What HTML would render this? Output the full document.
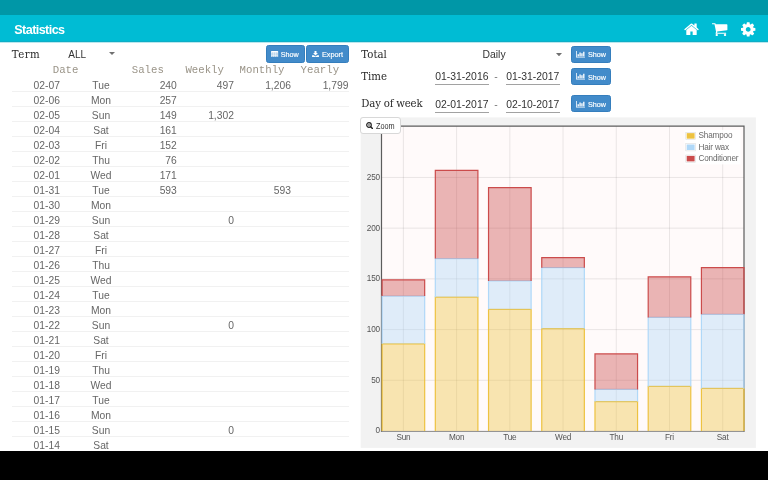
<!DOCTYPE html>
<html lang="en"><head><meta charset="utf-8"><title>Statistics</title>
<style>
html,body{margin:0;padding:0;}
body{width:768px;height:480px;overflow:hidden;background:#fff;position:relative;font-family:"Liberation Sans",sans-serif;color:#333;}
.abs{position:absolute;white-space:nowrap;}
#status{left:0;top:0;width:768px;height:15px;background:#0097a7;}
#appbar{left:0;top:15px;width:768px;height:28px;background:linear-gradient(#00bcd4 0,#00bcd4 26px,#0eaec6 26px,#0eaec6 27px,#7fd3df 27px,#f4fbfc 28px);}
#title{left:14.3px;top:22.7px;font-size:12.6px;font-weight:bold;color:#fff;line-height:15px;letter-spacing:-0.58px;}
#navbar{left:0;top:451px;width:768px;height:29px;background:#000;z-index:10;}
.serif{font-family:"DejaVu Serif","Liberation Serif",serif;font-size:10.2px;color:#2a2a2a;line-height:14px;}
.sans{font-size:10.4px;color:#333;line-height:12px;}
.hd{font-family:"Liberation Mono",monospace;font-size:10.7px;color:#9a9488;line-height:12px;}
.row{left:12px;width:337px;height:15px;border-bottom:1px solid #f1f1f1;box-sizing:border-box;}
.c{position:absolute;top:2.8px;font-size:10.3px;line-height:12px;color:#666;white-space:nowrap;}
.r{text-align:right;}
.btn{box-sizing:border-box;background:#428bca;border:0.6px solid #357ebd;border-radius:2.5px;color:#fff;font-size:7.2px;line-height:9px;height:17.2px;}
.btn span{position:absolute;top:3.9px;-webkit-text-stroke:0.15px #fff;}
.btn svg{position:absolute;}
.ul{height:1.6px;background:#a2a2a2;}
.tick{font-size:8.2px;letter-spacing:-0.18px;color:#545454;line-height:9px;}
</style></head><body>
<div id="status" class="abs"></div>
<div id="appbar" class="abs"></div>
<div id="title" class="abs">Statistics</div>
<svg class="abs" style="left:683.9px;top:22.6px" width="15" height="14" viewBox="0 200 1664 1550"><path fill="#fff" d="M1408 992v480q0 26-19 45t-45 19h-384v-384h-256v384h-384q-26 0-45-19t-19-45v-480q0-1 .5-3t.5-3l575-474 575 474q1 2 1 6zm223-69l-62 74q-8 9-21 11h-3q-13 0-21-7l-692-577-692 577q-12 8-24 7-13-2-21-11l-62-74q-8-10-7-23.500t11-21.500l719-599q32-26 76-26t76 26l244 204v-195q0-14 9-23t23-9h192q14 0 23 9t9 23v408l219 182q10 8 11 21.500t-7 23.500z"/></svg>
<svg class="abs" style="left:712.2px;top:23.1px" width="15.4" height="13.4" viewBox="0 256 1664 1408"><path fill="#fff" d="M640 1536q0 52-38 90t-90 38-90-38-38-90 38-90 90-38 90 38 38 90zm896 0q0 52-38 90t-90 38-90-38-38-90 38-90 90-38 90 38 38 90zm128-1088v512q0 24-16.500 42.500t-40.500 21.500l-1044 122q13 60 13 70 0 16-24 64h920q26 0 45 19t19 45-19 45-45 19h-1024q-26 0-45-19t-19-45q0-11 8-31.500t16-36 21.500-40 15.500-29.500l-177-823h-204q-26 0-45-19t-19-45 19-45 45-19h256q16 0 28.500 6.500t19.500 15.500 13 24.500 8 26 5.500 29.500 4.500 26h1201q26 0 45 19t19 45z"/></svg>
<svg class="abs" style="left:741.4px;top:22.1px" width="14.4" height="14.8" viewBox="128 128 1536 1536"><path fill="#fff" d="M1152 896q0-106-75-181t-181-75-181 75-75 181 75 181 181 75 181-75 75-181zm512-109v222q0 12-8 23t-20 13l-185 28q-19 54-39 91 35 50 107 138 10 12 10 25t-9 23q-27 37-99 108t-94 71q-12 0-26-9l-138-108q-44 23-91 38-16 136-29 186-7 28-36 28h-222q-14 0-24.500-8.500t-11.500-21.500l-28-184q-49-16-90-37l-141 107q-10 9-25 9-14 0-25-11-126-114-165-168-7-10-7-23 0-12 8-23 15-21 51-66.500t54-70.500q-27-50-41-99l-183-27q-13-2-21-12.500t-8-23.500v-222q0-12 8-23t19-13l186-28q14-46 39-92-40-57-107-138-10-12-10-24 0-10 9-23 26-36 98.500-107.500t94.500-71.500q13 0 26 10l138 107q44-23 91-38 16-136 29-186 7-28 36-28h222q14 0 24.500 8.500t11.500 21.500l28 184q49 16 90 37l142-107q9-9 24-9 13 0 25 10 129 119 165 170 7 8 7 22 0 12-8 23-15 21-51 66.500t-54 70.500q26 50 41 98l183 28q13 2 21 12.500t8 23.500z"/></svg>
<div class="abs serif" style="left:11.8px;top:47.5px;letter-spacing:0.45px">Term</div>
<div class="abs sans" style="left:68.3px;top:48.8px;font-size:10px">ALL</div>
<svg class="abs" style="left:109px;top:52px" width="6" height="3"><path d="M0 0h6l-3 3z" fill="#707070"/></svg>
<div class="abs btn" style="left:265.6px;top:45.4px;width:39px"><svg style="left:4.8px;top:4.5px" width="7.2" height="6.2" viewBox="0 0 12 10.4"><path fill="#fff" fill-rule="evenodd" d="M1 0h10a1 1 0 0 1 1 1v8.400a1 1 0 0 1-1 1H1a1 1 0 0 1-1-1V1a1 1 0 0 1 1-1zM.9 3.100v1.700h2.900V3.100zM4.500 3.100v1.700h3V3.100zM8.200 3.100v1.700h2.900V3.100zM.9 5.500v1.700h2.900V5.500zM4.500 5.500v1.700h3V5.500zM8.200 5.500v1.700h2.900V5.500zM.9 7.900v1.600h2.900V7.900zM4.500 7.900v1.600h3V7.900zM8.200 7.900v1.600h2.900V7.900z"/><path fill="#fff" fill-opacity="0.550" d="M.9 3.100h10.200v6.400H.9z"/></svg><span style="left:14.1px">Show</span></div>
<div class="abs btn" style="left:306.2px;top:45.400px;width:42.400px"><svg style="left:5.100px;top:4.400px" width="7" height="6.400" viewBox="0 0 14 13"><path fill="#fff" d="M5 0h4v4h3L7 9 2 4h3zM0 8.500h3.500L7 11l3.500-2.500H14V13H0z"/></svg><span style="left:14.800px;font-size:7.300px">Export</span></div>
<div class="abs hd" style="left:52.8px;top:64px">Date</div><div class="abs hd" style="left:131.8px;top:64px">Sales</div><div class="abs hd" style="left:185.4px;top:64px">Weekly</div><div class="abs hd" style="left:239.6px;top:64px">Monthly</div><div class="abs hd" style="left:300.6px;top:64px">Yearly</div>
<div class="abs row" style="top:76.8px"><span class="c" style="left:21.6px">02-07</span><span class="c" style="left:59px;width:60px;text-align:center">Tue</span><span class="c r" style="right:172.2px">240</span><span class="c r" style="right:115.1px">497</span><span class="c r" style="right:58.1px">1,206</span><span class="c r" style="right:0.6px">1,799</span></div>
<div class="abs row" style="top:91.8px"><span class="c" style="left:21.6px">02-06</span><span class="c" style="left:59px;width:60px;text-align:center">Mon</span><span class="c r" style="right:172.2px">257</span></div>
<div class="abs row" style="top:106.8px"><span class="c" style="left:21.6px">02-05</span><span class="c" style="left:59px;width:60px;text-align:center">Sun</span><span class="c r" style="right:172.2px">149</span><span class="c r" style="right:115.1px">1,302</span></div>
<div class="abs row" style="top:121.8px"><span class="c" style="left:21.6px">02-04</span><span class="c" style="left:59px;width:60px;text-align:center">Sat</span><span class="c r" style="right:172.2px">161</span></div>
<div class="abs row" style="top:136.8px"><span class="c" style="left:21.6px">02-03</span><span class="c" style="left:59px;width:60px;text-align:center">Fri</span><span class="c r" style="right:172.2px">152</span></div>
<div class="abs row" style="top:151.8px"><span class="c" style="left:21.6px">02-02</span><span class="c" style="left:59px;width:60px;text-align:center">Thu</span><span class="c r" style="right:172.2px">76</span></div>
<div class="abs row" style="top:166.8px"><span class="c" style="left:21.6px">02-01</span><span class="c" style="left:59px;width:60px;text-align:center">Wed</span><span class="c r" style="right:172.2px">171</span></div>
<div class="abs row" style="top:181.8px"><span class="c" style="left:21.6px">01-31</span><span class="c" style="left:59px;width:60px;text-align:center">Tue</span><span class="c r" style="right:172.2px">593</span><span class="c r" style="right:58.1px">593</span></div>
<div class="abs row" style="top:196.8px"><span class="c" style="left:21.6px">01-30</span><span class="c" style="left:59px;width:60px;text-align:center">Mon</span></div>
<div class="abs row" style="top:211.8px"><span class="c" style="left:21.6px">01-29</span><span class="c" style="left:59px;width:60px;text-align:center">Sun</span><span class="c r" style="right:115.1px">0</span></div>
<div class="abs row" style="top:226.8px"><span class="c" style="left:21.6px">01-28</span><span class="c" style="left:59px;width:60px;text-align:center">Sat</span></div>
<div class="abs row" style="top:241.8px"><span class="c" style="left:21.6px">01-27</span><span class="c" style="left:59px;width:60px;text-align:center">Fri</span></div>
<div class="abs row" style="top:256.8px"><span class="c" style="left:21.6px">01-26</span><span class="c" style="left:59px;width:60px;text-align:center">Thu</span></div>
<div class="abs row" style="top:271.8px"><span class="c" style="left:21.6px">01-25</span><span class="c" style="left:59px;width:60px;text-align:center">Wed</span></div>
<div class="abs row" style="top:286.8px"><span class="c" style="left:21.6px">01-24</span><span class="c" style="left:59px;width:60px;text-align:center">Tue</span></div>
<div class="abs row" style="top:301.8px"><span class="c" style="left:21.6px">01-23</span><span class="c" style="left:59px;width:60px;text-align:center">Mon</span></div>
<div class="abs row" style="top:316.8px"><span class="c" style="left:21.6px">01-22</span><span class="c" style="left:59px;width:60px;text-align:center">Sun</span><span class="c r" style="right:115.1px">0</span></div>
<div class="abs row" style="top:331.8px"><span class="c" style="left:21.6px">01-21</span><span class="c" style="left:59px;width:60px;text-align:center">Sat</span></div>
<div class="abs row" style="top:346.8px"><span class="c" style="left:21.6px">01-20</span><span class="c" style="left:59px;width:60px;text-align:center">Fri</span></div>
<div class="abs row" style="top:361.8px"><span class="c" style="left:21.6px">01-19</span><span class="c" style="left:59px;width:60px;text-align:center">Thu</span></div>
<div class="abs row" style="top:376.8px"><span class="c" style="left:21.6px">01-18</span><span class="c" style="left:59px;width:60px;text-align:center">Wed</span></div>
<div class="abs row" style="top:391.8px"><span class="c" style="left:21.6px">01-17</span><span class="c" style="left:59px;width:60px;text-align:center">Tue</span></div>
<div class="abs row" style="top:406.8px"><span class="c" style="left:21.6px">01-16</span><span class="c" style="left:59px;width:60px;text-align:center">Mon</span></div>
<div class="abs row" style="top:421.8px"><span class="c" style="left:21.6px">01-15</span><span class="c" style="left:59px;width:60px;text-align:center">Sun</span><span class="c r" style="right:115.1px">0</span></div>
<div class="abs row" style="top:436.8px"><span class="c" style="left:21.6px">01-14</span><span class="c" style="left:59px;width:60px;text-align:center">Sat</span></div>
<div class="abs serif" style="left:361.300px;top:47.500px">Total</div>
<div class="abs serif" style="left:361.300px;top:70.000px">Time</div>
<div class="abs serif" style="left:361.300px;top:97.400px;letter-spacing:-0.2px">Day of week</div>
<div class="abs sans" style="left:482.500px;top:49.100px">Daily</div>
<svg class="abs" style="left:555.500px;top:52.500px" width="6" height="3.300"><path d="M0 0h6l-3 3.300z" fill="#707070"/></svg>
<div class="abs sans" style="left:435.300px;top:71.300px">01-31-2016</div><div class="abs ul" style="left:435.300px;top:83.600px;width:53.500px"></div>
<div class="abs sans" style="left:494.200px;top:71.300px;color:#777">-</div>
<div class="abs sans" style="left:506.200px;top:71.300px">01-31-2017</div><div class="abs ul" style="left:506.200px;top:83.600px;width:53.500px"></div>
<div class="abs sans" style="left:435.300px;top:98.500px">02-01-2017</div><div class="abs ul" style="left:435.300px;top:111.600px;width:53.500px"></div>
<div class="abs sans" style="left:494.200px;top:98.500px;color:#777">-</div>
<div class="abs sans" style="left:506.200px;top:98.500px">02-10-2017</div><div class="abs ul" style="left:506.200px;top:111.600px;width:53.500px"></div>
<div class="abs btn" style="left:570.8px;top:45.6px;width:40.4px"><svg style="left:4.300px;top:4.700px" width="9" height="6.600" viewBox="0 0 14 10.300"><path fill="#fff" d="M0 0h1.200v8.800H14v1.500H0zM2.400 5h2.100v3.300H2.400zM5.300 2.200h2.100v6.100H5.300zM8.200 3.600h2.100v4.700H8.200zM11.100 1.100h2.100v7.200h-2.100z"/></svg><span style="left:16.1px">Show</span></div>
<div class="abs btn" style="left:570.8px;top:67.8px;width:40.4px"><svg style="left:4.300px;top:4.700px" width="9" height="6.600" viewBox="0 0 14 10.300"><path fill="#fff" d="M0 0h1.200v8.800H14v1.500H0zM2.400 5h2.100v3.300H2.400zM5.300 2.200h2.100v6.100H5.300zM8.200 3.600h2.100v4.700H8.200zM11.100 1.100h2.100v7.200h-2.100z"/></svg><span style="left:16.1px">Show</span></div>
<div class="abs btn" style="left:570.8px;top:95.3px;width:40.4px"><svg style="left:4.300px;top:4.700px" width="9" height="6.600" viewBox="0 0 14 10.300"><path fill="#fff" d="M0 0h1.200v8.800H14v1.500H0zM2.400 5h2.100v3.300H2.400zM5.300 2.200h2.100v6.100H5.300zM8.200 3.600h2.100v4.700H8.200zM11.100 1.100h2.100v7.200h-2.100z"/></svg><span style="left:16.1px">Show</span></div>
<svg class="abs" style="left:0;top:0" width="768" height="451" viewBox="0 0 768 451">
<rect x="360.700" y="117.400" width="395.200" height="330.500" fill="#f2f2f2"/>
<rect x="381.5" y="126.15" width="362.5" height="304.85" fill="#fffafa"/>
<line x1="381.5" x2="744.0" y1="380.29" y2="380.29" stroke="#545454" stroke-opacity="0.16" stroke-width="0.800"/>
<line x1="381.5" x2="744.0" y1="329.58" y2="329.58" stroke="#545454" stroke-opacity="0.16" stroke-width="0.800"/>
<line x1="381.5" x2="744.0" y1="278.88" y2="278.88" stroke="#545454" stroke-opacity="0.16" stroke-width="0.800"/>
<line x1="381.5" x2="744.0" y1="228.17" y2="228.17" stroke="#545454" stroke-opacity="0.16" stroke-width="0.800"/>
<line x1="381.5" x2="744.0" y1="177.46" y2="177.46" stroke="#545454" stroke-opacity="0.16" stroke-width="0.800"/>
<line x1="403.39" x2="403.39" y1="126.15" y2="431.0" stroke="#545454" stroke-opacity="0.16" stroke-width="0.800"/>
<line x1="456.61" x2="456.61" y1="126.15" y2="431.0" stroke="#545454" stroke-opacity="0.16" stroke-width="0.800"/>
<line x1="509.83" x2="509.83" y1="126.15" y2="431.0" stroke="#545454" stroke-opacity="0.16" stroke-width="0.800"/>
<line x1="563.05" x2="563.05" y1="126.15" y2="431.0" stroke="#545454" stroke-opacity="0.16" stroke-width="0.800"/>
<line x1="616.27" x2="616.27" y1="126.15" y2="431.0" stroke="#545454" stroke-opacity="0.16" stroke-width="0.800"/>
<line x1="669.49" x2="669.49" y1="126.15" y2="431.0" stroke="#545454" stroke-opacity="0.16" stroke-width="0.800"/>
<line x1="722.71" x2="722.71" y1="126.15" y2="431.0" stroke="#545454" stroke-opacity="0.16" stroke-width="0.800"/>
<path d="M381.5 431.4V126.15H744.0V431.4" fill="none" stroke="#5c5c5c" stroke-width="1.200"/>
<path d="M380.9 431.4H744.6" fill="none" stroke="#6e6e6e" stroke-width="0.800"/>
<rect x="382.10" y="343.78" width="42.58" height="87.22" fill="#edc240" fill-opacity="0.4"/>
<path d="M382.10 431.00V343.78H424.68V431.00" fill="none" stroke="#edc240" stroke-width="1.200"/>
<rect x="382.10" y="296.12" width="42.58" height="47.67" fill="#afd8f8" fill-opacity="0.4"/>
<path d="M382.10 343.78V296.12H424.68V343.78" fill="none" stroke="#afd8f8" stroke-width="1.200"/>
<rect x="382.10" y="279.89" width="42.58" height="16.23" fill="#cb4b4b" fill-opacity="0.4"/>
<path d="M382.10 296.12V279.89H424.68V296.12" fill="none" stroke="#cb4b4b" stroke-width="1.200"/>
<rect x="435.32" y="297.13" width="42.58" height="133.87" fill="#edc240" fill-opacity="0.4"/>
<path d="M435.32 431.00V297.13H477.90V431.00" fill="none" stroke="#edc240" stroke-width="1.200"/>
<rect x="435.32" y="258.59" width="42.58" height="38.54" fill="#afd8f8" fill-opacity="0.4"/>
<path d="M435.32 297.13V258.59H477.90V297.13" fill="none" stroke="#afd8f8" stroke-width="1.200"/>
<rect x="435.32" y="170.36" width="42.58" height="88.23" fill="#cb4b4b" fill-opacity="0.4"/>
<path d="M435.32 258.59V170.36H477.90V258.59" fill="none" stroke="#cb4b4b" stroke-width="1.200"/>
<rect x="488.54" y="309.30" width="42.58" height="121.70" fill="#edc240" fill-opacity="0.4"/>
<path d="M488.54 431.00V309.30H531.12V431.00" fill="none" stroke="#edc240" stroke-width="1.200"/>
<rect x="488.54" y="280.90" width="42.58" height="28.40" fill="#afd8f8" fill-opacity="0.4"/>
<path d="M488.54 309.30V280.90H531.12V309.30" fill="none" stroke="#afd8f8" stroke-width="1.200"/>
<rect x="488.54" y="187.60" width="42.58" height="93.30" fill="#cb4b4b" fill-opacity="0.4"/>
<path d="M488.54 280.90V187.60H531.12V280.90" fill="none" stroke="#cb4b4b" stroke-width="1.200"/>
<rect x="541.76" y="328.57" width="42.58" height="102.43" fill="#edc240" fill-opacity="0.4"/>
<path d="M541.76 431.00V328.57H584.34V431.00" fill="none" stroke="#edc240" stroke-width="1.200"/>
<rect x="541.76" y="267.72" width="42.58" height="60.85" fill="#afd8f8" fill-opacity="0.4"/>
<path d="M541.76 328.57V267.72H584.34V328.57" fill="none" stroke="#afd8f8" stroke-width="1.200"/>
<rect x="541.76" y="257.58" width="42.58" height="10.14" fill="#cb4b4b" fill-opacity="0.4"/>
<path d="M541.76 267.72V257.58H584.34V267.72" fill="none" stroke="#cb4b4b" stroke-width="1.200"/>
<rect x="594.98" y="401.59" width="42.58" height="29.41" fill="#edc240" fill-opacity="0.4"/>
<path d="M594.98 431.00V401.59H637.56V431.00" fill="none" stroke="#edc240" stroke-width="1.200"/>
<rect x="594.98" y="389.42" width="42.58" height="12.17" fill="#afd8f8" fill-opacity="0.4"/>
<path d="M594.98 401.59V389.42H637.56V401.59" fill="none" stroke="#afd8f8" stroke-width="1.200"/>
<rect x="594.98" y="353.92" width="42.58" height="35.50" fill="#cb4b4b" fill-opacity="0.4"/>
<path d="M594.98 389.42V353.92H637.56V389.42" fill="none" stroke="#cb4b4b" stroke-width="1.200"/>
<rect x="648.20" y="386.38" width="42.58" height="44.62" fill="#edc240" fill-opacity="0.4"/>
<path d="M648.20 431.00V386.38H690.78V431.00" fill="none" stroke="#edc240" stroke-width="1.200"/>
<rect x="648.20" y="317.41" width="42.58" height="68.96" fill="#afd8f8" fill-opacity="0.4"/>
<path d="M648.20 386.38V317.41H690.78V386.38" fill="none" stroke="#afd8f8" stroke-width="1.200"/>
<rect x="648.20" y="276.85" width="42.58" height="40.57" fill="#cb4b4b" fill-opacity="0.4"/>
<path d="M648.20 317.41V276.85H690.78V317.41" fill="none" stroke="#cb4b4b" stroke-width="1.200"/>
<rect x="701.42" y="388.40" width="42.58" height="42.60" fill="#edc240" fill-opacity="0.4"/>
<path d="M701.42 431.00V388.40H744.00V431.00" fill="none" stroke="#edc240" stroke-width="1.200"/>
<rect x="701.42" y="314.37" width="42.58" height="74.03" fill="#afd8f8" fill-opacity="0.4"/>
<path d="M701.42 388.40V314.37H744.00V388.40" fill="none" stroke="#afd8f8" stroke-width="1.200"/>
<rect x="701.42" y="267.72" width="42.58" height="46.65" fill="#cb4b4b" fill-opacity="0.4"/>
<path d="M701.42 314.37V267.72H744.00V314.37" fill="none" stroke="#cb4b4b" stroke-width="1.200"/>
<rect x="684.500" y="129.850" width="56.150" height="34.600" fill="#fff" fill-opacity="0.850"/>
<rect x="685.800" y="132.25" width="9.700" height="7.300" fill="#fff" stroke="#d6d6d6" stroke-width="0.500"/>
<rect x="686.700" y="133.15" width="7.900" height="5.500" fill="#edc240"/>
<rect x="685.800" y="143.6" width="9.700" height="7.300" fill="#fff" stroke="#d6d6d6" stroke-width="0.500"/>
<rect x="686.700" y="144.5" width="7.900" height="5.500" fill="#afd8f8"/>
<rect x="685.800" y="155" width="9.700" height="7.300" fill="#fff" stroke="#d6d6d6" stroke-width="0.500"/>
<rect x="686.700" y="155.9" width="7.900" height="5.500" fill="#cb4b4b"/>
</svg>
<div class="abs tick" style="left:698.5px;top:130.9px;color:#6a6a6a">Shampoo</div><div class="abs tick" style="left:698.5px;top:142.7px;color:#6a6a6a">Hair wax</div><div class="abs tick" style="left:698.5px;top:153.9px;color:#6a6a6a">Conditioner</div><div class="abs tick" style="right:388.1px;top:426.3px">0</div><div class="abs tick" style="right:388.1px;top:375.6px">50</div><div class="abs tick" style="right:388.1px;top:324.9px">100</div><div class="abs tick" style="right:388.1px;top:274.2px">150</div><div class="abs tick" style="right:388.1px;top:223.5px">200</div><div class="abs tick" style="right:388.1px;top:172.8px">250</div><div class="abs tick" style="left:383.4px;width:40px;text-align:center;top:433.300px">Sun</div><div class="abs tick" style="left:436.6px;width:40px;text-align:center;top:433.300px">Mon</div><div class="abs tick" style="left:489.8px;width:40px;text-align:center;top:433.300px">Tue</div><div class="abs tick" style="left:543.1px;width:40px;text-align:center;top:433.300px">Wed</div><div class="abs tick" style="left:596.3px;width:40px;text-align:center;top:433.300px">Thu</div><div class="abs tick" style="left:649.5px;width:40px;text-align:center;top:433.300px">Fri</div><div class="abs tick" style="left:702.7px;width:40px;text-align:center;top:433.300px">Sat</div>
<div class="abs" style="left:360.400px;top:117.200px;width:40.700px;height:17.200px;box-sizing:border-box;background:#fff;border:0.700px solid #d8d8d8;border-radius:3px;"></div>
<svg class="abs" style="left:366.200px;top:122.300px" width="7.200" height="7.200" viewBox="0 0 14 14"><circle cx="5.800" cy="5.800" r="4.500" fill="none" stroke="#222" stroke-width="2.300"/><path d="M9.600 9.600l3 3" stroke="#222" stroke-width="2.800" stroke-linecap="round"/><path d="M3.600 5.800h4.400M5.800 3.600v4.400" stroke="#222" stroke-width="1"/></svg>
<div class="abs" style="left:376.200px;top:121.800px;font-size:8.300px;transform:scaleX(0.880);transform-origin:0 0;line-height:9px;color:#333">Zoom</div>
<div id="navbar" class="abs"></div>
</body></html>
